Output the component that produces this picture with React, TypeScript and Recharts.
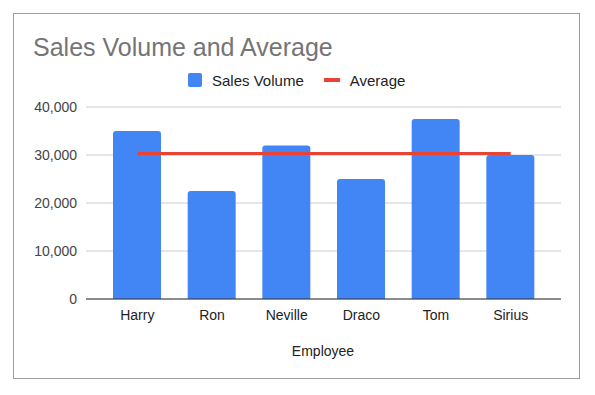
import React from "react";
import { ComposedChart, Bar, Line, XAxis, YAxis, CartesianGrid } from "recharts";

const employees = ["Harry", "Ron", "Neville", "Draco", "Tom", "Sirius"];
const salesVolume = [35000, 22500, 32000, 25000, 37500, 30000];
const averageValue = [30333, 30333, 30333, 30333, 30333, 30333];
const yTicks = [0, 10000, 20000, 30000, 40000];

const data = employees.map((name, i) => ({
  name,
  sales: salesVolume[i],
  avg: averageValue[i],
}));

const FONT = "Arial, 'Liberation Sans', sans-serif";

export default function App() {
  return (
    <div style={{ position: "absolute", left: 0, top: 0, width: 595, height: 395, background: "#fff", fontFamily: FONT }}>
      <div style={{ position: "absolute", left: 13, top: 13, width: 565, height: 364, border: "1px solid #9e9e9e", boxSizing: "content-box" }} />
      <div style={{ position: "absolute", left: 33, top: 32, fontSize: 25, color: "#757575", lineHeight: "30px", whiteSpace: "nowrap" }}>
        Sales Volume and Average
      </div>
      <div style={{ position: "absolute", left: 188, top: 71, height: 18, display: "flex", alignItems: "center", fontSize: 15, color: "#222", whiteSpace: "nowrap" }}>
        <span style={{ display: "inline-block", width: 14, height: 14, background: "#4285f4", borderRadius: 2, marginRight: 10 }} />
        <span>Sales Volume</span>
        <span style={{ display: "inline-block", width: 16, height: 4, background: "#ea4335", marginLeft: 20, marginRight: 10 }} />
        <span>Average</span>
      </div>
      <div style={{ position: "absolute", left: 0, top: 0 }}>
        <ComposedChart
          width={595}
          height={395}
          data={data}
          margin={{ top: 107, right: 34, left: 0, bottom: 66 }}
        >
          <CartesianGrid horizontal vertical={false} stroke="#cccccc" />
          <XAxis
            dataKey="name"
            padding={{ left: 14, right: 13 }}
            tickLine={false}
            axisLine={{ stroke: "#333", strokeWidth: 1 }}
            tickSize={0}
            tickMargin={11}
            height={30}
            tick={{ fontSize: 14, fill: "#222", fontFamily: FONT }}
            interval={0}
          />
          <YAxis
            domain={[0, 40000]}
            ticks={yTicks}
            width={86}
            axisLine={false}
            tickLine={false}
            tickSize={0}
            tickMargin={9}
            tickFormatter={(v: number) => v.toLocaleString("en-US")}
            tick={{ fontSize: 14, fill: "#444", fontFamily: FONT }}
          />
          <Bar dataKey="sales" fill="#4285f4" barSize={48} radius={[3, 3, 0, 0]} isAnimationActive={false} />
          <Line dataKey="avg" stroke="#ea4335" strokeWidth={3} dot={false} activeDot={false} isAnimationActive={false} />
        </ComposedChart>
      </div>
      <div style={{ position: "absolute", left: 0, width: 646, top: 343, textAlign: "center", fontSize: 14, color: "#222" }}>
        Employee
      </div>
    </div>
  );
}
